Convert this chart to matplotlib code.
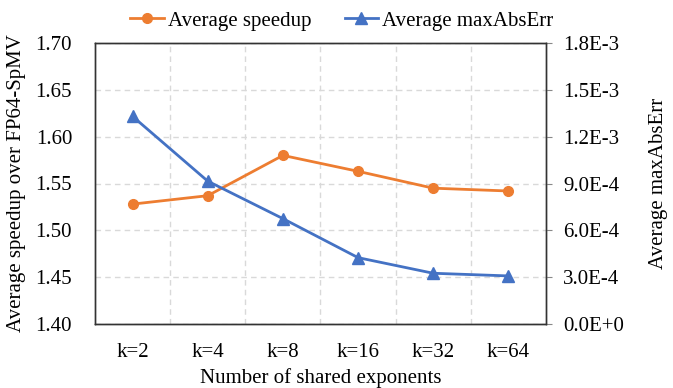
import numpy as np
import matplotlib.pyplot as plt
from matplotlib.lines import Line2D
from matplotlib.ticker import FuncFormatter, MultipleLocator

# data
categories = ["k=2", "k=4", "k=8", "k=16", "k=32", "k=64"]
speedup = [1.528, 1.537, 1.580, 1.563, 1.545, 1.542]
max_abs_err = [1.33e-3, 9.15e-4, 6.75e-4, 4.25e-4, 3.25e-4, 3.08e-4]

plt.rcParams["font.family"] = ["Liberation Serif", "DejaVu Serif"]
plt.rcParams["font.size"] = 15

orange = "#ED7D31"
blue = "#4472C4"

fig = plt.figure(figsize=(6.73, 3.88), dpi=100)
ax = fig.add_axes([95 / 673, 1 - 324 / 388, 451 / 673, 281 / 388])
ax2 = ax.twinx()

x = np.arange(len(categories))

ax.plot(x, speedup, color=orange, lw=2.0, marker="o", ms=7, zorder=3)
ax2.plot(x, max_abs_err, color=blue, lw=2.0, marker="^", ms=8, zorder=3)

ax.set_xlim(-0.5, len(categories) - 0.5)
ax.set_ylim(1.40, 1.70)
ax.yaxis.set_major_locator(MultipleLocator(0.05))
ax.yaxis.set_major_formatter(FuncFormatter(lambda v, p: f"{v:.2f}"))

ax2.set_ylim(0, 1.8e-3)
ax2.yaxis.set_major_locator(MultipleLocator(3e-4))


def sci_fmt(v, p):
    if abs(v) < 1e-12:
        return "0.0E+0"
    e = int(np.floor(np.log10(abs(v)) + 1e-9))
    m = v / 10 ** e
    return f"{m:.1f}E{e}"


ax2.yaxis.set_major_formatter(FuncFormatter(sci_fmt))

# grid: dashed, horizontal at ticks, vertical at category boundaries
ax.set_xticks(x)
ax.set_xticklabels(categories)
ax.set_xticks(np.arange(0.5, len(categories) - 1, 1), minor=True)
ax.grid(True, which="major", axis="y", color="#D9D9D9", ls=(0, (4, 3)), lw=1)
ax.grid(True, which="minor", axis="x", color="#D9D9D9", ls=(0, (4, 3)), lw=1)
ax.set_axisbelow(True)

ax.tick_params(axis="x", which="both", length=0, pad=14)
ax.tick_params(axis="y", length=0, pad=16.5)
ax2.tick_params(axis="y", length=4.5, width=0.8, color="#888888", pad=8)

for a in (ax, ax2):
    for s in a.spines.values():
        s.set_color("#333333")
        s.set_linewidth(1.0)

ax.set_xlabel("Number of shared exponents", labelpad=4)
ax.set_ylabel("Average speedup over FP64-SpMV", labelpad=7)
ax2.set_ylabel("Average maxAbsErr", labelpad=18)

legend_elements = [
    Line2D([0], [0], color=orange, lw=2.0, marker="o", ms=7, label="Average speedup"),
    Line2D([0], [0], color=blue, lw=2.0, marker="^", ms=8, label="Average maxAbsErr"),
]
fig.legend(handles=legend_elements, loc="upper center", bbox_to_anchor=(0.508, 1.02),
           ncol=2, frameon=False, handlelength=1.6, handletextpad=0.2, columnspacing=1.6)

fig.savefig("out.png", dpi=100)
